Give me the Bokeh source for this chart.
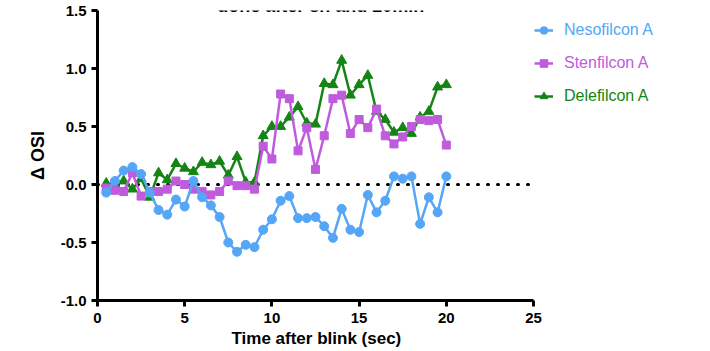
from bokeh.plotting import figure
from bokeh.models import (ColumnDataSource, FixedTicker, NumeralTickFormatter,
                          Legend, LegendItem, Label, Range1d, Title)
from bokeh.embed import file_html
from bokeh.resources import INLINE

# ---- data ----
time = [0.5, 1.0, 1.5, 2.0, 2.5, 3.0, 3.5, 4.0, 4.5, 5.0,
        5.5, 6.0, 6.5, 7.0, 7.5, 8.0, 8.5, 9.0, 9.5, 10.0,
        10.5, 11.0, 11.5, 12.0, 12.5, 13.0, 13.5, 14.0, 14.5, 15.0,
        15.5, 16.0, 16.5, 17.0, 17.5, 18.0, 18.5, 19.0, 19.5, 20.0]
nesofilcon = [-0.07, 0.03, 0.12, 0.15, 0.09, -0.07, -0.22, -0.26, -0.13, -0.19,
              0.03, -0.11, -0.18, -0.28, -0.50, -0.58, -0.52, -0.54, -0.39, -0.30,
              -0.14, -0.10, -0.29, -0.29, -0.28, -0.36, -0.46, -0.21, -0.39, -0.41,
              -0.09, -0.24, -0.14, 0.07, 0.05, 0.07, -0.34, -0.11, -0.24, 0.07]
stenfilcon = [-0.03, -0.05, -0.06, 0.10, -0.10, -0.06, -0.06, -0.04, 0.03, 0.00,
              -0.04, -0.06, -0.09, -0.06, 0.03, -0.01, -0.01, -0.04, 0.33, 0.22,
              0.78, 0.74, 0.29, 0.49, 0.13, 0.42, 0.74, 0.77, 0.44, 0.56,
              0.49, 0.65, 0.42, 0.35, 0.41, 0.50, 0.56, 0.55, 0.56, 0.34]
delefilcon = [0.01, 0.00, 0.03, -0.04, 0.05, -0.11, 0.10, 0.04, 0.18, 0.14,
              0.11, 0.19, 0.17, 0.20, 0.08, 0.24, 0.02, 0.02, 0.42, 0.50,
              0.50, 0.58, 0.67, 0.53, 0.52, 0.87, 0.86, 1.07, 0.77, 0.86,
              0.94, 0.63, 0.56, 0.45, 0.49, 0.44, 0.58, 0.63, 0.84, 0.86]
series_names = ["Nesofilcon A", "Stenfilcon A", "Delefilcon A"]
x_ticks = [0, 5, 10, 15, 20, 25]
y_ticks = [-1.0, -0.5, 0.0, 0.5, 1.0, 1.5]
baseline_value = [0.0, 0.0]
title_text = "done after 8h and 20min"
x_label = "Time after blink (sec)"
y_label = "Δ OSI"

colors = {"Nesofilcon A": "#55a6f7", "Stenfilcon A": "#bf5bdc", "Delefilcon A": "#148514"}

src = ColumnDataSource(dict(t=time, neso=nesofilcon, sten=stenfilcon, dele=delefilcon))

# ---- layout (pixels) ----
W, H = 700, 352
LEFT, RIGHT, TOP, BOTTOM = 89, 8, 12, 50
frame_w = W - LEFT - RIGHT
axis_px = 436                      # pixel length of the 0..25 axis
x_end = x_ticks[-1] * frame_w / axis_px
px_per_unit_y = 290 / (y_ticks[-1] - y_ticks[0])
x_label_px = 168                   # rendered width of the x-axis title

p = figure(width=W, height=H, output_backend="svg", toolbar_location=None,
           x_range=Range1d(0, x_end), y_range=Range1d(y_ticks[0], y_ticks[-1]),
           min_border_left=LEFT, min_border_right=RIGHT,
           min_border_top=TOP, min_border_bottom=BOTTOM)
p.margin = (-2, 0, 0, 8)
p.outline_line_color = None
p.xgrid.visible = False
p.ygrid.visible = False

font = "Liberation Sans"
for ax in (p.xaxis[0], p.yaxis[0]):
    ax.axis_line_width = 3
    ax.axis_line_color = "black"
    ax.major_tick_line_width = 3
    ax.major_tick_line_color = "black"
    ax.major_tick_out = 6
    ax.major_tick_in = 0
    ax.minor_tick_line_color = None
    ax.major_label_text_font = font
    ax.major_label_text_font_style = "bold"
    ax.major_label_text_font_size = "15px"
    ax.major_label_text_color = "black"
    ax.axis_label_text_font = font
    ax.axis_label_text_font_style = "bold"
    ax.axis_label_text_font_size = "18px"
    ax.axis_label_text_color = "black"

p.xaxis.bounds = (x_ticks[0], x_ticks[-1])
p.xaxis.ticker = FixedTicker(ticks=x_ticks)
p.yaxis.ticker = FixedTicker(ticks=y_ticks)
p.yaxis.formatter = NumeralTickFormatter(format="0.0")
p.yaxis.axis_label = y_label
p.xaxis.major_label_standoff = 6
p.yaxis.major_label_standoff = 5
p.yaxis.axis_label_standoff = 10

# x-axis title, centred under the 0..25 part of the frame
p.add_layout(Title(text=x_label, align="left", offset=(axis_px - x_label_px) / 2,
                   standoff=3, text_font=font, text_font_style="bold",
                   text_font_size="17px", text_color="black"), "below")

# dotted zero line across the axis extent
p.line([x_ticks[0], x_ticks[-1]], baseline_value, line_color="black", line_width=3,
       line_dash="1 9", line_cap="round")

# draw order: green, purple, blue
r_dl = p.line("t", "dele", source=src, line_color=colors["Delefilcon A"], line_width=2.5)
r_dm = p.scatter("t", "dele", source=src, marker="triangle", size=10,
                 fill_color=colors["Delefilcon A"], line_color=colors["Delefilcon A"])
r_sl = p.line("t", "sten", source=src, line_color=colors["Stenfilcon A"], line_width=2.5)
r_sm = p.scatter("t", "sten", source=src, marker="square", size=8,
                 fill_color=colors["Stenfilcon A"], line_color=colors["Stenfilcon A"])
r_nl = p.line("t", "neso", source=src, line_color=colors["Nesofilcon A"], line_width=2.5)
r_nm = p.scatter("t", "neso", source=src, marker="circle", size=9,
                 fill_color=colors["Nesofilcon A"], line_color=colors["Nesofilcon A"])

renderers = {"Nesofilcon A": [r_nl, r_nm], "Stenfilcon A": [r_sl, r_sm],
             "Delefilcon A": [r_dl, r_dm]}
bottoms = {"Nesofilcon A": 260, "Stenfilcon A": 227, "Delefilcon A": 194}
for name in series_names:
    lg = Legend(items=[LegendItem(label=name, renderers=renderers[name])],
                location=(437, bottoms[name]), orientation="vertical",
                padding=0, margin=0, spacing=0,
                border_line_color=None, background_fill_alpha=0,
                glyph_width=19, glyph_height=20, label_standoff=11,
                label_text_font=font, label_text_font_size="16px",
                label_text_color=colors[name])
    p.add_layout(lg)

# title (its upper part lies above the page, as in the reference)
p.add_layout(Label(x=12.8, y=y_ticks[-1] + 5 / px_per_unit_y, text=title_text,
                   text_align="center", text_baseline="alphabetic", text_font=font,
                   text_font_style="bold", text_font_size="18px", text_color="black"))

open("out.html", "w").write(file_html(p, INLINE))
